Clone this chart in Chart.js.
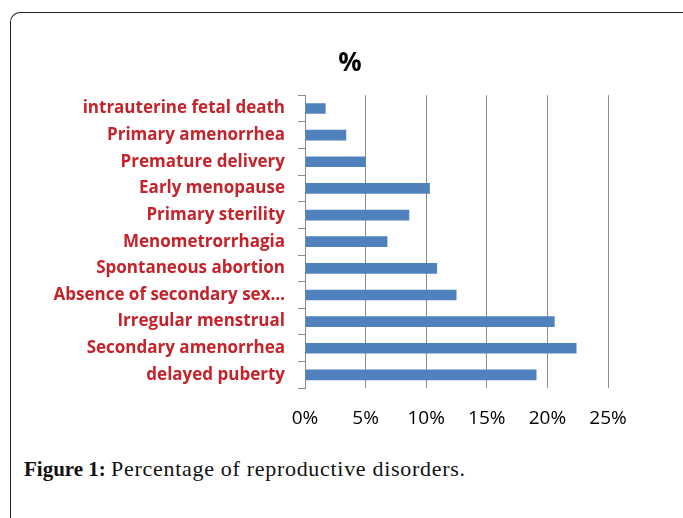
<!DOCTYPE html>
<html>
<head>
<meta charset="utf-8">
<script src="https://cdn.jsdelivr.net/npm/chart.js@4.4.0/dist/chart.umd.min.js"></script>
<style>
  body { margin: 0; background: #fff; width: 683px; height: 518px; overflow: hidden; position: relative; }
  .frame { position: absolute; left: 10px; top: 12px; width: 700px; height: 540px;
           border-left: 1.5px solid #222; border-top: 1.5px solid #222; border-top-left-radius: 10px; }
  .wrap { position: absolute; left: 20px; top: 40px; width: 660px; height: 409px; }
  .caption { position: absolute; left: 24px; top: 458px; font-family: "Liberation Serif", serif;
             font-size: 21px; line-height: 21px; color: #111; white-space: nowrap; }
  .caption span { font-size: 22px; letter-spacing: 0.7px; }
</style>
</head>
<body>
<div class="frame"></div>
<div class="wrap"><canvas id="disorders"></canvas></div>
<div class="caption"><b>Figure 1:</b> <span>Percentage of reproductive disorders.</span></div>
<script>
const disorders = ['intrauterine fetal death', 'Primary amenorrhea', 'Premature delivery', 'Early menopause',
    'Primary sterility', 'Menometrorrhagia', 'Spontaneous abortion', 'Absence of secondary sex\u2026',
    'Irregular menstrual', 'Secondary amenorrhea', 'delayed puberty'];
const percents = [1.7, 3.4, 5.0, 10.3, 8.6, 6.8, 10.9, 12.5, 20.6, 22.4, 19.1];
const percentTicks = [0, 5, 10, 15, 20, 25];

const ctx = document.getElementById("disorders");

new Chart(ctx, {
    type: 'bar',
    data: {
        labels: disorders,
        datasets: [{
            label: '%',
            data: percents,
            backgroundColor: '#4f81bd',
            borderWidth: 0,
            barPercentage: 0.4,
            categoryPercentage: 1
        }]
    },
    options: {
        indexAxis: 'y',
        responsive: true,
        maintainAspectRatio: false,
        animation: false,
        layout: {
            padding: { left: 20, right: 20, top: 0, bottom: 0 }
        },
        plugins: {
            legend: { display: false },
            tooltip: { enabled: false },
            title: {
                display: true,
                text: '%',
                color: '#000',
                font: { family: 'Open Sans', size: 26, weight: 'bold' },
                padding: { top: 8, bottom: 16 }
            }
        },
        scales: {
            x: {
                min: percentTicks[0],
                max: percentTicks[percentTicks.length - 1],
                afterBuildTicks: (scale) => {
                    scale.ticks = percentTicks.map(v => ({ value: v }));
                },
                grid: { color: '#8c8c8c', drawTicks: false },
                border: { display: false },
                ticks: {
                    padding: 19,
                    color: '#000',
                    font: { family: 'Open Sans', size: 19 },
                    callback: (v) => v + '%'
                }
            },
            y: {
                afterFit: (scale) => { scale.width = 265; },
                grid: { offset: true, drawOnChartArea: false, tickLength: 7, color: '#8c8c8c' },
                border: { display: true, color: '#8c8c8c' },
                ticks: {
                    padding: 13,
                    color: '#c4232b',
                    font: { family: 'Open Sans', size: 17, weight: 'bold' }
                }
            },
            // empty right-hand box, keeps the plot narrow like the original
            spacer: {
                type: 'category',
                axis: 'y',
                position: 'right',
                afterFit: (scale) => { scale.width = 52; },
                grid: { display: false },
                border: { display: false },
                ticks: { display: false }
            }
        }
    }
});
</script>
</body>
</html>
